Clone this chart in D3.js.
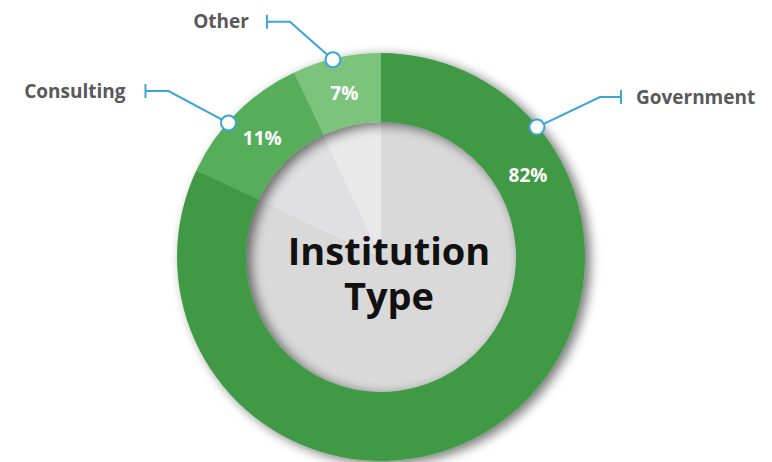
<!DOCTYPE html>
<html>
<head>
<meta charset="utf-8">
<script src="https://cdn.jsdelivr.net/npm/d3@7"></script>
<style>
  html, body { margin: 0; padding: 0; background: #fff; }
  svg { display: block; font-family: "Open Sans", "Noto Sans", sans-serif; }
</style>
</head>
<body>
<svg id="chart" width="772" height="462"></svg>
<script>
// ---- data ----
const categories = ["Government", "Consulting", "Other"];
const values = [82, 11, 7];
const valueLabels = ["82%", "11%", "7%"];
const centerTitle = ["Institution", "Type"];

// ---- styling / layout ----
const ringColors = ["#3f9a45", "#56ae5a", "#7cc47b"];
const holeColors = ["#d9d9d9", "#e0e0e2", "#e9e9ea"];
const cx = 381, cy = 257, rOuter = 204, rInner = 135;
const pctRadius = 168;
// angle override for value label (degrees, clockwise from top); null = slice middle
const pctAngle = [61, null, null];
// annotation anchor angle on the ring (degrees) and elbow offset, horizontal run
const annot = [
  { angle: 50.2, elbow: [63, -30], run: 21, side: 1, gap: 15 },
  { angle: -48.7, elbow: [-60, -32], run: 23, side: -1, gap: 20 },
  { angle: -13.7, elbow: [-43, -38], run: 23, side: -1, gap: 18 }
];

const svg = d3.select("#chart");
const defs = svg.append("defs");
const f = defs.append("filter").attr("id", "shadow")
  .attr("x", "-20%").attr("y", "-20%").attr("width", "140%").attr("height", "140%");
f.append("feGaussianBlur").attr("in", "SourceAlpha").attr("stdDeviation", 6).attr("result", "b");
f.append("feOffset").attr("in", "b").attr("dx", 5).attr("dy", 3).attr("result", "o");
f.append("feComponentTransfer").attr("in", "o").attr("result", "o2")
  .append("feFuncA").attr("type", "linear").attr("slope", 0.55);
const fm = f.append("feMerge");
fm.append("feMergeNode").attr("in", "o2");
fm.append("feMergeNode").attr("in", "SourceGraphic");

const data = categories.map((c, i) => ({ name: c, value: values[i], label: valueLabels[i], i }));
const pie = d3.pie().value(d => d.value).sort(null);
const arcs = pie(data);

const g = svg.append("g").attr("transform", `translate(${cx},${cy})`);

// hole (inner pale wedges)
const holeArc = d3.arc().innerRadius(0).outerRadius(rInner + 2);
g.append("g").selectAll("path").data(arcs).join("path")
  .attr("d", holeArc).attr("fill", d => holeColors[d.data.i]);

// ring
const ringArc = d3.arc().innerRadius(rInner).outerRadius(rOuter);
g.append("g").attr("filter", "url(#shadow)")
  .selectAll("path").data(arcs).join("path")
  .attr("d", ringArc).attr("fill", d => ringColors[d.data.i]);

const rad = deg => deg * Math.PI / 180;
const polar = (deg, r) => [r * Math.sin(rad(deg)), -r * Math.cos(rad(deg))];

// value labels
g.append("g").selectAll("text").data(arcs).join("text")
  .attr("transform", d => {
    const a = pctAngle[d.data.i] != null ? pctAngle[d.data.i]
      : (d.startAngle + d.endAngle) / 2 * 180 / Math.PI;
    const p = polar(a, pctRadius);
    return `translate(${p[0]},${p[1]})`;
  })
  .attr("text-anchor", "middle").attr("dy", "0.36em")
  .attr("fill", "#fff").attr("font-weight", 700).attr("font-size", 19)
  .text(d => d.data.label);

// annotations
const ag = g.append("g");
arcs.forEach(d => {
  const a = annot[d.data.i];
  const p0 = polar(a.angle, rOuter - 1);
  const p1 = [p0[0] + a.elbow[0], p0[1] + a.elbow[1]];
  const p2 = [p1[0] + a.side * a.run, p1[1]];
  ag.append("path")
    .attr("d", d3.line()([p0, p1, p2]))
    .attr("fill", "none").attr("stroke", "#3ba4d9").attr("stroke-width", 2);
  ag.append("line")
    .attr("x1", p2[0]).attr("x2", p2[0]).attr("y1", p2[1] - 7).attr("y2", p2[1] + 7)
    .attr("stroke", "#3ba4d9").attr("stroke-width", 2);
  ag.append("circle").attr("cx", p0[0]).attr("cy", p0[1]).attr("r", 7.5)
    .attr("fill", "#fff").attr("stroke", "#3ba4d9").attr("stroke-width", 2);
  ag.append("text")
    .attr("x", p2[0] + a.side * a.gap).attr("y", p2[1])
    .attr("dy", "0.35em")
    .attr("text-anchor", a.side > 0 ? "start" : "end")
    .attr("fill", "#595959").attr("font-weight", 700).attr("font-size", 19)
    .text(d.data.name);
});

// centre title
const tg = g.append("g").attr("fill", "#111").attr("font-weight", 700)
  .attr("font-size", 38).attr("text-anchor", "middle");
centerTitle.forEach((t, i) => {
  tg.append("text").attr("x", 8).attr("y", 8 + i * 45).text(t);
});
</script>
</body>
</html>
